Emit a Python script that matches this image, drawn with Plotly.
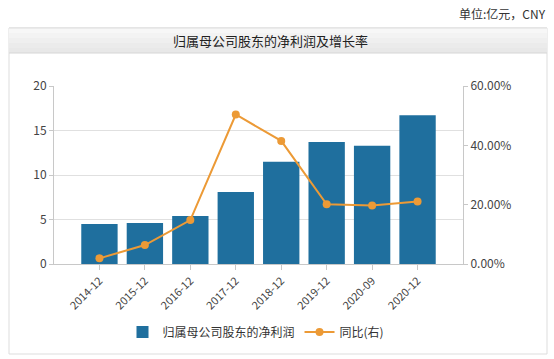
import plotly.graph_objects as go

categories = ["2014-12", "2015-12", "2016-12", "2017-12", "2018-12", "2019-12", "2020-09", "2020-12"]
net_profit = [4.5, 4.6, 5.4, 8.1, 11.5, 13.7, 13.3, 16.7]
yoy_pct = [1.9, 6.4, 14.8, 50.4, 41.5, 20.1, 19.7, 21.1]
left_ticks = [0, 5, 10, 15, 20]
right_ticks = [0, 20, 40, 60]
right_tick_labels = ["0.00%", "20.00%", "40.00%", "60.00%"]

W, H = 554, 359
L, R, T, B = 54, 91, 86, 95

BAR_COLOR = "#1f6f9e"
LINE_COLOR = "#ec9a36"
FONT = "Noto Sans CJK SC, Noto Sans, sans-serif"

fig = go.Figure()
fig.add_trace(go.Bar(
    x=categories, y=net_profit, name="归属母公司股东的净利润",
    marker=dict(color=BAR_COLOR, line=dict(width=0)), width=0.8,
    yaxis="y",
))
fig.add_trace(go.Scatter(
    x=categories, y=yoy_pct, name="同比(右)", mode="lines+markers",
    line=dict(color=LINE_COLOR, width=2),
    marker=dict(color=LINE_COLOR, size=8),
    yaxis="y2",
))

def px_x(x):
    return (x - L) / (W - L - R)

def px_y(y):
    return (H - B - y) / (H - T - B)

shapes = []
# outer panel
shapes.append(dict(type="rect", xref="paper", yref="paper",
                   x0=px_x(9), x1=px_x(547), y0=px_y(354), y1=px_y(28),
                   line=dict(color="#dddddd", width=1), fillcolor="rgba(0,0,0,0)", layer="below"))
# title bar with faux gradient
bands = ["#f7f7f7", "#f3f3f3", "#efefef", "#ebebeb", "#e8e8e8"]
top = 28
step = 25 / len(bands)
for i, c in enumerate(bands):
    shapes.append(dict(type="rect", xref="paper", yref="paper",
                       x0=px_x(9), x1=px_x(547),
                       y0=px_y(top + (i + 1) * step), y1=px_y(top + i * step),
                       line=dict(width=0), fillcolor=c, layer="below"))
shapes.append(dict(type="line", xref="paper", yref="paper",
                   x0=px_x(9), x1=px_x(547), y0=px_y(53), y1=px_y(53),
                   line=dict(color="#d6d6d6", width=1)))
shapes.append(dict(type="line", xref="paper", yref="paper",
                   x0=px_x(9), x1=px_x(547), y0=px_y(28), y1=px_y(28),
                   line=dict(color="#dddddd", width=1)))

annotations = [
    dict(text="单位:亿元，CNY", xref="paper", yref="paper",
         x=px_x(548), y=px_y(14), xanchor="right", yanchor="middle",
         showarrow=False, font=dict(size=12, color="#333333", family=FONT)),
    dict(text="归属母公司股东的净利润及增长率", xref="paper", yref="paper",
         x=px_x(270), y=px_y(41), xanchor="center", yanchor="middle",
         showarrow=False, font=dict(size=13, color="#222222", family=FONT)),
]

fig.update_layout(
    width=W, height=H,
    margin=dict(l=L, r=R, t=T, b=B, pad=0),
    paper_bgcolor="white", plot_bgcolor="white",
    font=dict(family=FONT, size=12, color="#444444"),
    bargap=0.2,
    showlegend=True,
    legend=dict(orientation="h", x=px_x(256), y=px_y(332), xanchor="center", yanchor="middle",
                font=dict(size=12, color="#333333", family=FONT),
                itemwidth=30, tracegroupgap=0, bgcolor="rgba(0,0,0,0)"),
    xaxis=dict(type="category", range=[-1, 8], tickangle=-45,
               showline=True, linecolor="#c8c8c8", linewidth=1,
               ticks="outside", ticklen=5, tickcolor="#c8c8c8",
               showgrid=False, tickfont=dict(size=11, color="#444444"),
               fixedrange=True),
    yaxis=dict(range=[0, 20], tickvals=left_ticks,
               showline=True, linecolor="#c8c8c8", linewidth=1,
               gridcolor="#e0e0e0", gridwidth=1, zeroline=False,
               ticks="outside", ticklen=4, tickcolor="#c8c8c8",
               tickfont=dict(size=12, color="#444444")),
    yaxis2=dict(range=[0, 60], tickvals=right_ticks, ticktext=right_tick_labels,
                overlaying="y", side="right",
                showline=True, linecolor="#c8c8c8", linewidth=1,
                showgrid=False, zeroline=False,
                ticks="outside", ticklen=4, tickcolor="#c8c8c8",
                tickfont=dict(size=12, color="#444444")),
    shapes=shapes,
    annotations=annotations,
)

fig.write_html("out.html")
